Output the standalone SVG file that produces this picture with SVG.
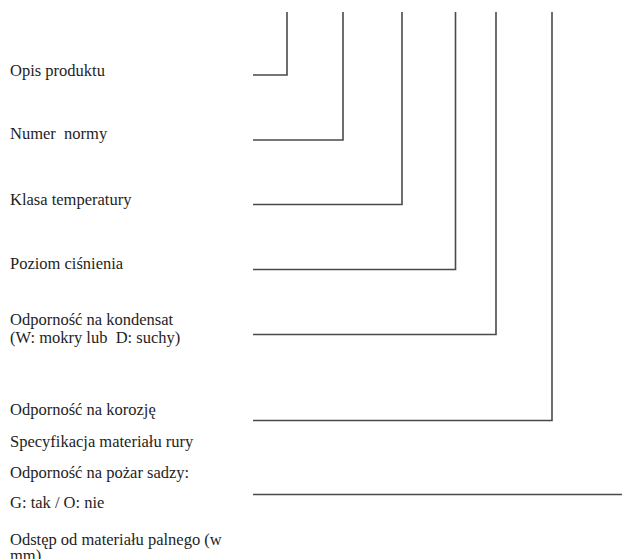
<svg xmlns="http://www.w3.org/2000/svg" width="622" height="559" viewBox="0 0 622 559">
<style>
text{font-family:"Liberation Serif","Times New Roman",serif;font-size:16.5px;fill:#1e1e1e}
.c{fill:none;stroke:#4a4a4a;stroke-width:1.6}
</style>
<rect width="622" height="559" fill="#fff"/>
<g id="n1"><text x="10" y="76">Opis produktu</text></g>
<g id="n2"><text x="10" y="139" xml:space="preserve">Numer  normy</text></g>
<g id="n3"><text x="10" y="205">Klasa temperatury</text></g>
<g id="n4"><text x="10" y="269">Poziom ciśnienia</text></g>
<g id="n5"><text x="10" y="325">Odporność na kondensat</text><text x="10" y="343" xml:space="preserve">(W: mokry lub  D: suchy)</text></g>
<g id="n6"><text x="10" y="415">Odporność na korozję</text></g>
<g id="n7"><text x="10" y="447">Specyfikacja materiału rury</text></g>
<g id="n8"><text x="10" y="478">Odporność na pożar sadzy:</text><text x="10" y="508">G: tak / O: nie</text></g>
<g id="n9"><text x="10" y="545">Odstęp od materiału palnego (w</text><text x="10" y="561">mm)</text></g>
<g id="connectors">
<polyline class="c" points="253,75 287,75 287,12"/>
<polyline class="c" points="253,140 343,140 343,12"/>
<polyline class="c" points="253,204.5 402,204.5 402,12"/>
<polyline class="c" points="253,269.5 455.5,269.5 455.5,12"/>
<polyline class="c" points="253,334.5 496,334.5 496,12"/>
<polyline class="c" points="253,420.5 552,420.5 552,12"/>
<line class="c" x1="253" y1="494.5" x2="622" y2="494.5"/>
</g>
</svg>
